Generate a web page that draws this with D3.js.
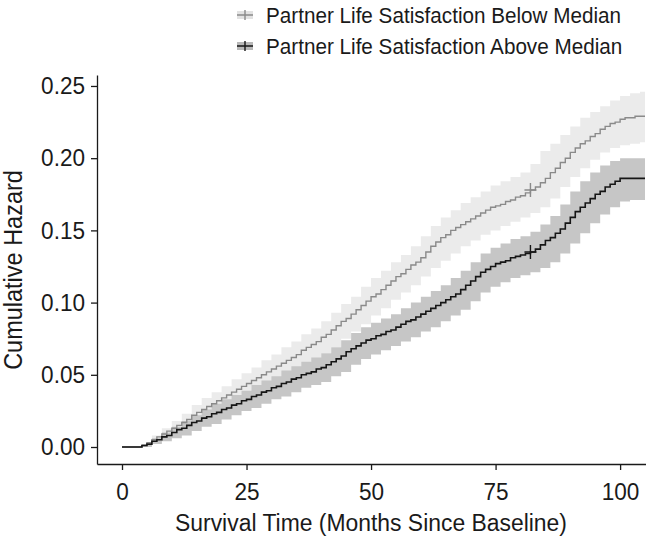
<!DOCTYPE html>
<html>
<head>
<meta charset="utf-8">
<script src="https://cdn.jsdelivr.net/npm/d3@7"></script>
<style>
  html, body { margin: 0; padding: 0; background: #fff; }
  svg text { font-family: "Liberation Sans", Arial, sans-serif; fill: #1a1a1a; }
</style>
</head>
<body>
<svg id="chart" width="646" height="543"></svg>
<script>
// ---- Data ----
const seriesNames = ["Partner Life Satisfaction Below Median", "Partner Life Satisfaction Above Median"];
// monthly time grid for the step curves (months 0..105)
const months = d3.range(0, 106);
const belowHazard = [
  0,0,0,0,0.001,0.003,0.005,0.007,0.009,0.011,
  0.013,0.015,0.017,0.019,0.022,0.024,0.026,0.028,0.030,0.032,
  0.034,0.036,0.038,0.040,0.042,0.044,0.046,0.048,0.050,0.052,
  0.054,0.056,0.058,0.060,0.062,0.064,0.067,0.069,0.071,0.073,
  0.076,0.078,0.081,0.084,0.087,0.089,0.092,0.095,0.098,0.101,
  0.104,0.106,0.109,0.112,0.115,0.118,0.120,0.123,0.126,0.128,
  0.131,0.135,0.139,0.142,0.145,0.147,0.150,0.152,0.154,0.156,
  0.158,0.160,0.162,0.164,0.166,0.167,0.168,0.170,0.171,0.173,
  0.174,0.176,0.178,0.180,0.183,0.186,0.190,0.193,0.197,0.200,
  0.204,0.207,0.210,0.212,0.215,0.217,0.220,0.222,0.224,0.225,
  0.227,0.228,0.228,0.229,0.229,0.229
];
const aboveHazard = [
  0,0,0,0,0.001,0.002,0.004,0.005,0.007,0.008,
  0.010,0.012,0.013,0.015,0.017,0.018,0.020,0.021,0.023,0.024,
  0.026,0.027,0.029,0.030,0.032,0.033,0.035,0.036,0.038,0.039,
  0.041,0.042,0.044,0.045,0.047,0.048,0.050,0.051,0.052,0.054,
  0.055,0.057,0.059,0.061,0.063,0.066,0.068,0.070,0.072,0.074,
  0.075,0.077,0.078,0.080,0.081,0.083,0.085,0.087,0.088,0.090,
  0.092,0.094,0.096,0.098,0.100,0.102,0.104,0.106,0.109,0.112,
  0.115,0.118,0.121,0.123,0.125,0.127,0.128,0.129,0.131,0.132,
  0.133,0.134,0.135,0.137,0.140,0.143,0.145,0.148,0.151,0.155,
  0.159,0.163,0.166,0.169,0.172,0.175,0.177,0.180,0.182,0.184,
  0.186,0.186,0.186,0.186,0.186,0.186
];
// confidence band grid (every 2 months, 0..104, then 105)
const bandMonths = d3.range(0, 105, 2).concat([105]);
const belowLower = [0,0,0,0.003,0.005,0.008,0.011,0.015,0.019,0.022,0.026,0.030,0.033,0.037,0.040,0.044,0.047,0.051,0.055,0.059,0.065,0.069,0.075,0.080,0.085,0.091,0.096,0.102,0.107,0.112,0.118,0.124,0.129,0.134,0.139,0.143,0.147,0.150,0.153,0.156,0.159,0.162,0.166,0.172,0.180,0.187,0.193,0.199,0.204,0.207,0.209,0.210,0.211,0.211];
const belowUpper = [0,0,0.002,0.008,0.013,0.018,0.023,0.029,0.034,0.038,0.042,0.047,0.051,0.055,0.060,0.064,0.069,0.073,0.078,0.082,0.087,0.093,0.099,0.104,0.111,0.117,0.122,0.128,0.133,0.139,0.146,0.153,0.159,0.164,0.169,0.173,0.177,0.181,0.184,0.187,0.190,0.196,0.205,0.210,0.216,0.222,0.228,0.232,0.236,0.240,0.243,0.245,0.246,0.246];
const aboveLower = [0,0,0,0.002,0.004,0.006,0.008,0.011,0.014,0.016,0.019,0.022,0.025,0.027,0.030,0.033,0.035,0.038,0.041,0.043,0.045,0.049,0.052,0.057,0.061,0.064,0.067,0.070,0.073,0.076,0.080,0.083,0.087,0.091,0.095,0.101,0.107,0.111,0.114,0.117,0.119,0.121,0.124,0.128,0.134,0.141,0.148,0.155,0.161,0.166,0.170,0.171,0.171,0.171];
const aboveUpper = [0,0,0.002,0.006,0.010,0.014,0.018,0.022,0.026,0.030,0.033,0.036,0.039,0.043,0.046,0.049,0.053,0.056,0.059,0.062,0.065,0.069,0.074,0.079,0.083,0.086,0.089,0.092,0.096,0.100,0.104,0.108,0.112,0.117,0.122,0.128,0.134,0.138,0.141,0.144,0.146,0.149,0.154,0.160,0.168,0.177,0.184,0.190,0.195,0.198,0.200,0.200,0.200,0.200];
// censoring marks
const censorTime = [82, 82];
const censorHazard = [0.178, 0.135];
const xTicks = [0, 25, 50, 75, 100];
const yTicks = [0.00, 0.05, 0.10, 0.15, 0.20, 0.25];

// ---- Styles ----
const bandColors = ["#ebebeb", "#c6c6c6"];
const legendKeyColors = ["#e2e2e2", "#b8b8b8"];
const lineColors = ["#8a8a8a", "#161616"];
const lineWidths = [1.4, 1.6];
const SX = 0.94; // horizontal condensing of text (condensed face look)

const svg = d3.select("#chart");

// scales (domain extends slightly beyond data like ggplot expansion)
const x = d3.scaleLinear().domain([-5.02, 105.2]).range([97, 646]);
const y = d3.scaleLinear().domain([-0.01177, 0.2576]).range([464, 75]);

const lineGen = d3.line().x(d => x(d[0])).y(d => y(d[1])).curve(d3.curveStepAfter);
const areaGen = d3.area().x(d => x(d[0])).y0(d => y(d[1])).y1(d => y(d[2])).curve(d3.curveStepAfter);

const bands = [
  bandMonths.map((t, i) => [t, belowLower[i], belowUpper[i]]),
  bandMonths.map((t, i) => [t, aboveLower[i], aboveUpper[i]])
];
const lines = [
  months.map((t, i) => [t, belowHazard[i]]),
  months.map((t, i) => [t, aboveHazard[i]])
];

bands.forEach((b, i) => {
  svg.append("path").attr("d", areaGen(b)).attr("fill", bandColors[i]).attr("stroke", "none");
});
lines.forEach((l, i) => {
  svg.append("path").attr("d", lineGen(l)).attr("fill", "none")
    .attr("stroke", lineColors[i]).attr("stroke-width", lineWidths[i]);
});
// censor "+" marks
censorTime.forEach((t, i) => {
  const cx = x(t), cy = y(censorHazard[i]);
  svg.append("path").attr("d", `M${cx-6},${cy}H${cx+6}M${cx},${cy-7}V${cy+7}`)
    .attr("stroke", lineColors[i]).attr("stroke-width", 1.4).attr("fill", "none");
});

// axes
const xAxis = d3.axisBottom(x).tickValues(xTicks).tickFormat(d3.format("d")).tickSize(6).tickSizeOuter(0).tickPadding(13);
const gx = svg.append("g").attr("transform", "translate(0,464)").call(xAxis);
gx.selectAll("text").style("font-size", "24px").attr("transform", `scale(${SX},1)`);

const yAxis = d3.axisLeft(y).tickValues(yTicks).tickFormat(d3.format(".2f")).tickSize(6).tickSizeOuter(0).tickPadding(6);
const gy = svg.append("g").attr("transform", "translate(97,0)").call(yAxis);
gy.selectAll("text").style("font-size", "24px").attr("x", -12 / SX).attr("transform", `scale(${SX},1)`);

[gx, gy].forEach(g => {
  g.select(".domain").attr("stroke", "#1a1a1a").attr("stroke-width", 1.3);
  g.selectAll(".tick line").attr("stroke", "#1a1a1a").attr("stroke-width", 1.3);
  g.selectAll("text").attr("fill", "#1a1a1a").style("font-family", '"Liberation Sans", Arial, sans-serif');
});

// axis titles
svg.append("text").attr("transform", "translate(371,531) scale(0.935,1)").attr("text-anchor", "middle")
  .style("font-size", "24.5px").text("Survival Time (Months Since Baseline)");
svg.append("text").attr("transform", "translate(22,270) rotate(-90) scale(0.94,1)").attr("text-anchor", "middle")
  .style("font-size", "25px").text("Cumulative Hazard");

// legend
const legendY = [15, 46];
seriesNames.forEach((name, i) => {
  const g = svg.append("g").attr("transform", `translate(237,${legendY[i]})`);
  g.append("rect").attr("x", 0).attr("y", -4).attr("width", 16).attr("height", 8).attr("fill", legendKeyColors[i]);
  g.append("path").attr("d", "M0,0H16M8,-5V5").attr("stroke", lineColors[i]).attr("stroke-width", 1.4);
  g.append("text").attr("transform", `translate(29,0) scale(${SX},1)`).attr("dy", "0.35em").style("font-size", "22px").text(name);
});
</script>
</body>
</html>
